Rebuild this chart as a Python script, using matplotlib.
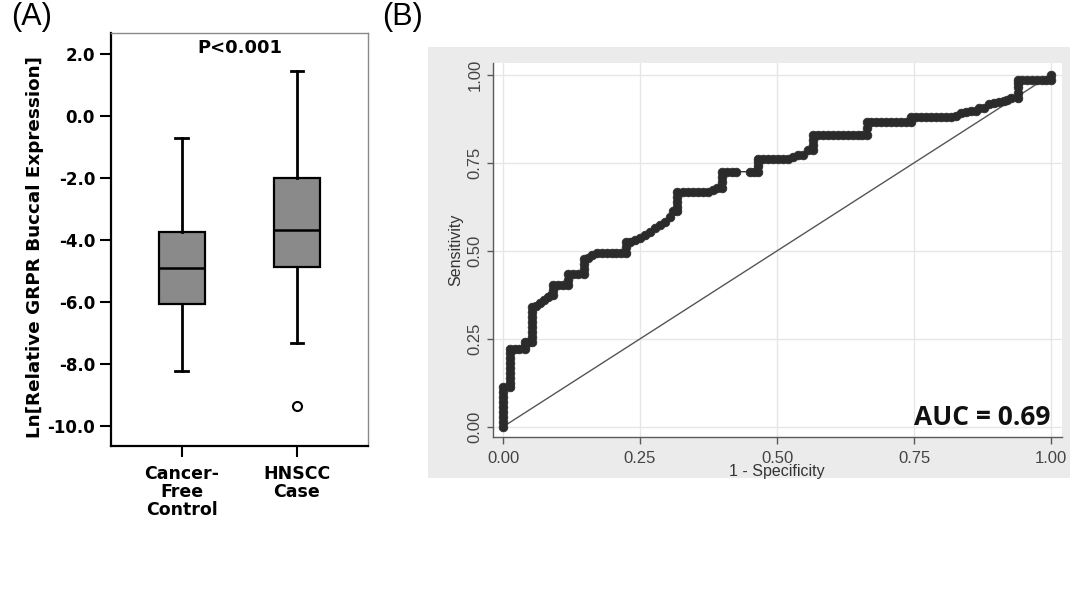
import matplotlib
matplotlib.use("Agg")
import matplotlib.pyplot as plt
from matplotlib.patches import Rectangle

# ---------------- data ----------------
# Panel A: box plot summary statistics (Ln relative GRPR buccal expression)
groups = ["Cancer-\nFree\nControl", "HNSCC\nCase"]
whislo = [-8.22, -7.34]
q1 = [-6.06, -4.86]
med = [-4.92, -3.68]
q3 = [-3.75, -2.01]
whishi = [-0.69, 1.46]
fliers = [[], [-9.36]]
box_yticks = [2.0, 0.0, -2.0, -4.0, -6.0, -8.0, -10.0]
p_text = "P<0.001"

# Panel B: ROC curve points (1 - specificity, sensitivity)
roc_fpr = [
    0.000, 0.000, 0.000, 0.000, 0.000, 0.000, 0.000, 0.000, 0.000,
    0.013, 0.013, 0.013, 0.013, 0.013, 0.013, 0.013, 0.013, 0.013,
    0.021, 0.029,
    0.040, 0.040, 0.040, 0.047,
    0.053, 0.053, 0.053, 0.053, 0.053, 0.053, 0.053, 0.053,
    0.061, 0.068, 0.075, 0.082, 0.088,
    0.092, 0.092, 0.092, 0.100, 0.109,
    0.119, 0.119, 0.119, 0.128, 0.137,
    0.147, 0.147, 0.147, 0.147,
    0.155, 0.163, 0.171, 0.180, 0.189, 0.198, 0.207, 0.216,
    0.224, 0.224, 0.224,
    0.232, 0.241, 0.250, 0.259, 0.268, 0.277, 0.286, 0.295, 0.304, 0.311,
    0.317, 0.317, 0.317, 0.317, 0.317,
    0.329, 0.338, 0.347, 0.356, 0.365, 0.374, 0.384, 0.391,
    0.399, 0.399, 0.399, 0.399,
    0.408, 0.417, 0.426, 0.451, 0.458,
    0.466, 0.466, 0.466, 0.466,
    0.475, 0.484, 0.493, 0.502, 0.511, 0.520, 0.529, 0.538, 0.547, 0.557,
    0.565, 0.565, 0.565, 0.565,
    0.575, 0.584, 0.593, 0.602, 0.611, 0.620, 0.629, 0.638, 0.647, 0.656,
    0.664, 0.664, 0.664,
    0.672, 0.681, 0.690, 0.699, 0.708, 0.717, 0.727, 0.736,
    0.745, 0.745,
    0.754, 0.763, 0.772, 0.781, 0.790, 0.799, 0.808, 0.818,
    0.827, 0.836, 0.845, 0.854, 0.863, 0.869, 0.878, 0.887, 0.896, 0.905,
    0.914, 0.920, 0.927,
    0.939, 0.939, 0.939, 0.939, 0.939,
    0.947, 0.956, 0.965, 0.974, 0.983, 0.991,
    1.000, 1.000,
]
roc_tpr = [
    0.000, 0.014, 0.028, 0.042, 0.056, 0.070, 0.084, 0.098, 0.112,
    0.112, 0.126, 0.140, 0.154, 0.168, 0.182, 0.196, 0.210, 0.220,
    0.220, 0.220,
    0.220, 0.230, 0.240, 0.242,
    0.242, 0.256, 0.270, 0.284, 0.298, 0.312, 0.326, 0.340,
    0.342, 0.352, 0.360, 0.368, 0.376,
    0.376, 0.390, 0.403, 0.403, 0.403,
    0.403, 0.418, 0.433, 0.433, 0.433,
    0.433, 0.448, 0.463, 0.478,
    0.480, 0.487, 0.494, 0.494, 0.494, 0.494, 0.494, 0.494,
    0.494, 0.510, 0.526,
    0.526, 0.530, 0.536, 0.545, 0.555, 0.564, 0.573, 0.583, 0.597, 0.612,
    0.612, 0.626, 0.640, 0.654, 0.668,
    0.668, 0.668, 0.668, 0.668, 0.668, 0.668, 0.672, 0.680,
    0.680, 0.695, 0.710, 0.725,
    0.725, 0.725, 0.725, 0.725, 0.725,
    0.725, 0.740, 0.752, 0.760,
    0.760, 0.760, 0.760, 0.760, 0.760, 0.760, 0.767, 0.772, 0.772, 0.786,
    0.786, 0.800, 0.815, 0.830,
    0.830, 0.830, 0.830, 0.830, 0.830, 0.830, 0.830, 0.830, 0.830, 0.830,
    0.830, 0.848, 0.865,
    0.865, 0.865, 0.865, 0.865, 0.865, 0.865, 0.865, 0.865,
    0.865, 0.879,
    0.879, 0.879, 0.879, 0.879, 0.879, 0.879, 0.879, 0.879,
    0.883, 0.893, 0.895, 0.897, 0.897, 0.907, 0.907, 0.916, 0.920, 0.922,
    0.925, 0.930, 0.935,
    0.935, 0.950, 0.965, 0.978, 0.986,
    0.986, 0.986, 0.986, 0.986, 0.986, 0.986,
    0.986, 1.000,
]
roc_ticks = [0.00, 0.25, 0.50, 0.75, 1.00]
roc_ticklabels = ["0.00", "0.25", "0.50", "0.75", "1.00"]
auc_text = "AUC = 0.69"

# ---------------- figure ----------------
W, H = 1078, 591
fig = plt.figure(figsize=(W / 100, H / 100), dpi=100)
fig.patch.set_facecolor("white")


def fx(px):
    return px / W


def fy(py):
    return 1 - py / H


# ---------- Panel A ----------
axA = fig.add_axes([fx(111), fy(446), fx(368) - fx(111), fy(33) - fy(446)])
stats = []
for i in range(len(groups)):
    stats.append(dict(label=groups[i], whislo=whislo[i], q1=q1[i], med=med[i],
                      q3=q3[i], whishi=whishi[i], fliers=fliers[i]))
axA.bxp(stats, positions=[1, 2], widths=0.4, capwidths=0.11,
        patch_artist=True, showfliers=True,
        boxprops=dict(facecolor="#8a8a8a", edgecolor="black", linewidth=1.6),
        medianprops=dict(color="black", linewidth=1.8),
        whiskerprops=dict(color="black", linewidth=2.0),
        capprops=dict(color="black", linewidth=2.0),
        flierprops=dict(marker="o", markerfacecolor="white", markeredgecolor="black",
                        markersize=6.5, markeredgewidth=1.5))
axA.set_xlim(0.387, 2.616)
axA.set_ylim(-10.66, 2.69)
axA.set_yticks(box_yticks)
axA.set_yticklabels([f"{v:.1f}" for v in box_yticks])
axA.set_xticks([1, 2])
axA.set_xticklabels(groups, linespacing=1.0)
for lab in axA.get_yticklabels():
    lab.set_fontfamily("DejaVu Sans")
    lab.set_fontweight("bold")
    lab.set_fontsize(12)
for lab in axA.get_xticklabels():
    lab.set_fontfamily("DejaVu Sans")
    lab.set_fontweight("bold")
    lab.set_fontsize(12.5)
axA.tick_params(axis="both", direction="out", length=8, width=1.5, color="black")
axA.tick_params(axis="y", pad=3.5)
axA.tick_params(axis="x", pad=6)
for s in ["left", "bottom"]:
    axA.spines[s].set_color("black")
    axA.spines[s].set_linewidth(1.6)
for s in ["top", "right"]:
    axA.spines[s].set_color("#8a8a8a")
    axA.spines[s].set_linewidth(1.0)
fig.text(fx(35), fy(247), "Ln[Relative GRPR Buccal Expression]", rotation=90,
         ha="center", va="center", fontfamily="DejaVu Sans", fontweight="bold",
         fontsize=13.2)
axA.text(0.5, 0.985, p_text, transform=axA.transAxes, ha="center", va="top",
         fontfamily="DejaVu Sans", fontweight="bold", fontsize=13)

fig.text(fx(11), fy(2), "(A)", ha="left", va="top", fontsize=22,
         fontfamily="Liberation Sans")
fig.text(fx(382), fy(2), "(B)", ha="left", va="top", fontsize=22,
         fontfamily="Liberation Sans")

# ---------- Panel B ----------
bg = Rectangle((fx(428), fy(478)), fx(1070) - fx(428), fy(47) - fy(478),
               transform=fig.transFigure, facecolor="#ebebeb", edgecolor="none",
               zorder=-10)
fig.patches.append(bg)

axB = fig.add_axes([fx(492.7), fy(436.7), fx(1061.7) - fx(492.7), fy(63.3) - fy(436.7)])
axB.set_facecolor("white")
axB.set_xlim(-0.0188, 1.0195)
axB.set_ylim(-0.028, 1.033)
axB.set_xticks(roc_ticks)
axB.set_yticks(roc_ticks)
axB.set_xticklabels(roc_ticklabels)
axB.set_yticklabels(roc_ticklabels, rotation=90, va="center")
axB.grid(True, color="#e6e6e6", linewidth=1.0)
axB.set_axisbelow(True)
for s in ["top", "right"]:
    axB.spines[s].set_visible(False)
for s in ["left", "bottom"]:
    axB.spines[s].set_color("#5a5a5a")
    axB.spines[s].set_linewidth(1.0)
axB.tick_params(axis="x", direction="out", length=5, width=1, color="#5a5a5a",
                pad=5, labelsize=12, labelcolor="#444444")
axB.tick_params(axis="y", direction="out", length=4.5, width=1, color="#5a5a5a",
                pad=3, labelsize=12, labelcolor="#444444")
for lab in axB.get_xticklabels() + axB.get_yticklabels():
    lab.set_fontfamily("Liberation Sans")
axB.set_xlabel("1 - Specificity", fontfamily="Liberation Sans", fontsize=11.5,
               color="#333333", labelpad=-1)
axB.set_ylabel("Sensitivity", fontfamily="Liberation Sans", fontsize=11.5,
               color="#333333", labelpad=3)

# reference diagonal
axB.plot([0, 1], [0, 1], color="#555555", linewidth=1.0, zorder=2)
# ROC curve
axB.plot(roc_fpr, roc_tpr, color="#3a3a3a", linewidth=1.0, marker="o",
         markersize=6.3, markerfacecolor="#2b2b2b", markeredgecolor="#2b2b2b",
         markeredgewidth=0.5, zorder=3)
axB.text(0.998, 0.006, auc_text, ha="right", va="baseline", fontsize=19,
         fontweight="bold", fontfamily="Open Sans", color="#111111", zorder=4)

fig.savefig("out.png", dpi=100, facecolor="white")
